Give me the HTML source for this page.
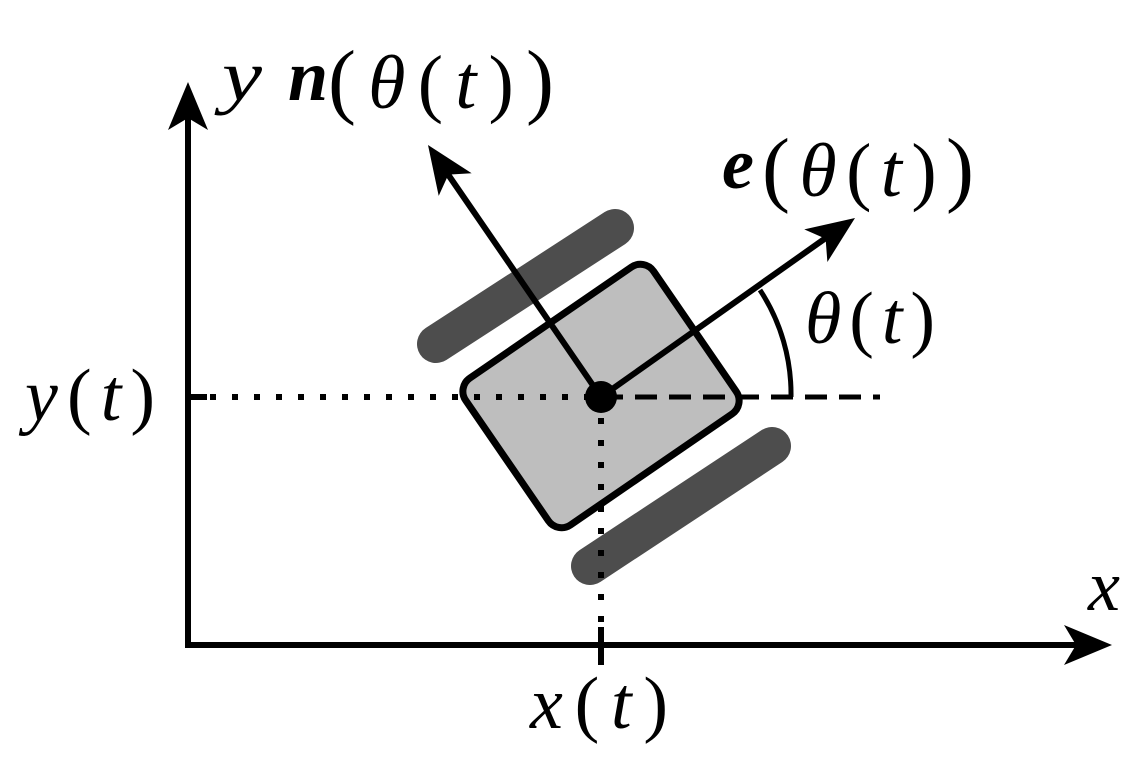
<!DOCTYPE html>
<html><head><style>
html,body{margin:0;padding:0;background:#fff;}
svg{display:block}
text{font-family:"Liberation Serif","DejaVu Serif",serif;fill:#000}
</style></head><body>
<svg width="1148" height="781" viewBox="0 0 1148 781" xmlns="http://www.w3.org/2000/svg">
<!-- wheels -->
<line x1="436" y1="344" x2="615" y2="228" stroke="#4d4d4d" stroke-width="38" stroke-linecap="round"/>
<line x1="590" y1="566" x2="772" y2="446" stroke="#4d4d4d" stroke-width="38" stroke-linecap="round"/>
<!-- body -->
<g transform="translate(601,396) rotate(-34.5)">
<rect x="-114" y="-89" width="228" height="178" rx="16" fill="#bebebe" stroke="#000" stroke-width="7"/>
</g>
<!-- dotted lines -->
<line x1="188" y1="397" x2="207" y2="397" stroke="#000" stroke-width="6"/>
<line x1="210" y1="397" x2="600" y2="397" stroke="#000" stroke-width="6" stroke-dasharray="6 16"/>
<line x1="601" y1="418" x2="601" y2="628" stroke="#000" stroke-width="6" stroke-dasharray="6 16"/>
<line x1="601" y1="627" x2="601" y2="665" stroke="#000" stroke-width="6"/>
<!-- dashed -->
<line x1="601" y1="397" x2="880" y2="397" stroke="#000" stroke-width="5" stroke-dasharray="22 12"/>
<!-- angle arc -->
<path d="M760,290 A190,190 0 0 1 791,397" fill="none" stroke="#000" stroke-width="5"/>
<!-- axes -->
<line x1="188" y1="648" x2="188" y2="110" stroke="#000" stroke-width="6"/>
<line x1="185" y1="645" x2="1090" y2="645" stroke="#000" stroke-width="6"/>
<path d="M188,82 L208,130 L188,118 L168,130 Z" fill="#000"/>
<path d="M1112,645 L1064,665 L1076,645 L1064,625 Z" fill="#000"/>
<!-- n arrow -->
<line x1="601" y1="397" x2="445" y2="170" stroke="#000" stroke-width="6"/>
<g transform="translate(428,145) rotate(55.5)"><path d="M0,0 L-48,20 L-36,0 L-48,-20 Z" fill="#000" transform="rotate(180)"/></g>
<!-- e arrow -->
<line x1="601" y1="397" x2="830" y2="235" stroke="#000" stroke-width="6"/>
<g transform="translate(855,218) rotate(-35.3)"><path d="M0,0 L-48,20 L-36,0 L-48,-20 Z" fill="#000"/></g>
<!-- center dot -->
<circle cx="601" cy="397" r="16" fill="#000"/>
<!-- labels -->
<text x="222" y="100" font-size="72" font-style="italic" textLength="40" lengthAdjust="spacingAndGlyphs">y</text>
<text x="288" y="100" font-size="72" font-style="italic" font-weight="bold">n</text>
<text x="328" y="108" font-size="76" textLength="226" lengthAdjust="spacing"><tspan font-size="84">(</tspan><tspan font-style="italic">θ</tspan>(<tspan font-style="italic">t</tspan>)<tspan font-size="84">)</tspan></text>
<text x="722" y="188" font-size="72" font-style="italic" font-weight="bold">e</text>
<text x="762" y="196" font-size="76" textLength="212" lengthAdjust="spacing"><tspan font-size="84">(</tspan><tspan font-style="italic">θ</tspan>(<tspan font-style="italic">t</tspan>)<tspan font-size="84">)</tspan></text>
<text x="805" y="343" font-size="74" textLength="130" lengthAdjust="spacing"><tspan font-style="italic">θ</tspan>(<tspan font-style="italic">t</tspan>)</text>
<text x="25" y="420" font-size="74" textLength="130" lengthAdjust="spacing"><tspan font-style="italic">y</tspan>(<tspan font-style="italic">t</tspan>)</text>
<text x="530" y="728" font-size="74" textLength="138" lengthAdjust="spacing"><tspan font-style="italic">x</tspan>(<tspan font-style="italic">t</tspan>)</text>
<text x="1088" y="610" font-size="72" font-style="italic">x</text>
</svg>
</body></html>
